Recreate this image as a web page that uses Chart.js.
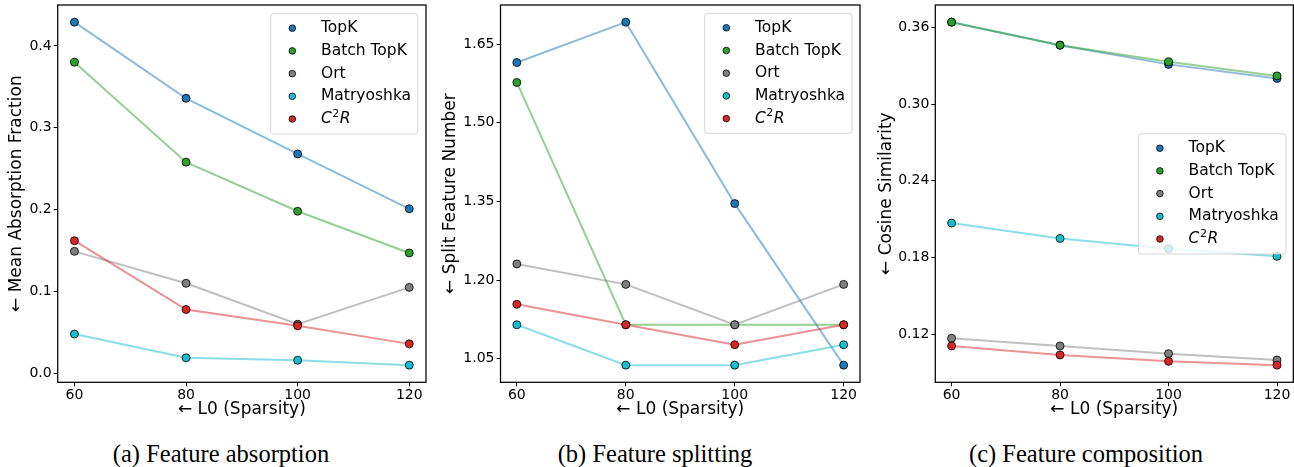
<!DOCTYPE html>
<html>
<head>
<meta charset="utf-8">
<script src="https://cdn.jsdelivr.net/npm/chart.js@4.4.1/dist/chart.umd.min.js"></script>
<style>
  html, body { margin: 0; padding: 0; background: #fff; }
  body { width: 1294px; height: 467px; position: relative; overflow: hidden; }
  .panel { position: absolute; top: 0; }
  .cap {
    position: absolute; top: 441.8px; width: 300px; text-align: center;
    font-family: "Liberation Serif", "Times New Roman", serif;
    font-size: 24.5px; line-height: 1; color: #000; white-space: nowrap;
  }
</style>
</head>
<body>
<canvas id="absChart" class="panel" width="430" height="425" style="left:0px"></canvas>
<canvas id="splitChart" class="panel" width="424" height="425" style="left:440px"></canvas>
<canvas id="compChart" class="panel" width="424" height="425" style="left:870px"></canvas>
<div class="cap" style="left:71px">(a) Feature absorption</div>
<div class="cap" style="left:505px">(b) Feature splitting</div>
<div class="cap" style="left:936px">(c) Feature composition</div>

<script>
// ── Data ──────────────────────────────────────────────────────
const xValues = [60, 80, 100, 120];
const xTicks  = [60, 80, 100, 120];
const methodNames  = ['TopK', 'Batch TopK', 'Ort', 'Matryoshka', 'C²R'];
const methodColors = ['#1f77b4', '#2ca02c', '#7f7f7f', '#17becf', '#d62728'];

// (a) Feature absorption
const absorptionTopK  = [0.429, 0.336, 0.268, 0.201];
const absorptionBatch = [0.380, 0.258, 0.198, 0.147];
const absorptionOrt   = [0.149, 0.110, 0.060, 0.105];
const absorptionMatry = [0.048, 0.019, 0.016, 0.010];
const absorptionC2R   = [0.162, 0.078, 0.058, 0.036];
const absorptionTicks = [0.0, 0.1, 0.2, 0.3, 0.4];

// (b) Feature splitting
const splittingTopK  = [1.615, 1.692, 1.346, 1.038];
const splittingBatch = [1.577, 1.115, 1.115, 1.115];
const splittingOrt   = [1.231, 1.192, 1.115, 1.192];
const splittingMatry = [1.115, 1.038, 1.038, 1.077];
const splittingC2R   = [1.154, 1.115, 1.077, 1.115];
const splittingTicks = [1.05, 1.20, 1.35, 1.50, 1.65];

// (c) Feature composition
const compositionTopK  = [0.364, 0.346, 0.331, 0.320];
const compositionBatch = [0.364, 0.346, 0.333, 0.322];
const compositionOrt   = [0.117, 0.111, 0.105, 0.100];
const compositionMatry = [0.207, 0.195, 0.187, 0.181];
const compositionC2R   = [0.111, 0.104, 0.099, 0.096];
const compositionTicks = [0.12, 0.18, 0.24, 0.30, 0.36];

// ── Helpers ───────────────────────────────────────────────────
const FONT = '"DejaVu Sans", "Noto Sans", sans-serif';

function rgba(hex, a) {
  const n = parseInt(hex.slice(1), 16);
  return `rgba(${(n >> 16) & 255},${(n >> 8) & 255},${n & 255},${a})`;
}

// matplotlib-style 5% margins around the data
function paddedRange(values) {
  const lo = Math.min(...values), hi = Math.max(...values);
  const m = (hi - lo) * 0.05;
  return [lo - m, hi + m];
}

function makeDatasets(seriesList) {
  return seriesList.map((values, i) => ({
    label: methodNames[i],
    data: values.map((v, j) => ({ x: xValues[j], y: v })),
    borderColor: rgba(methodColors[i], 0.5),
    backgroundColor: methodColors[i],
    pointBackgroundColor: methodColors[i],
    pointBorderColor: '#000',
    pointBorderWidth: 0.8,
    pointRadius: 4,
    pointHoverRadius: 4,
    borderWidth: 2,
    tension: 0,
    order: seriesList.length - i,   // later series on top, like matplotlib
    clip: false,
  }));
}

function drawLabel(ctx, text, x, y) {
  ctx.fillStyle = '#000';
  ctx.textBaseline = 'middle';
  ctx.textAlign = 'left';
  if (text === 'C²R') {
    ctx.font = `italic 15.5px ${FONT}`;
    ctx.fillText('C', x, y);
    let cx = x + ctx.measureText('C').width + 0.5;
    ctx.font = `11px ${FONT}`;
    ctx.fillText('2', cx, y - 5);
    cx += ctx.measureText('2').width + 0.5;
    ctx.font = `italic 15.5px ${FONT}`;
    ctx.fillText('R', cx, y);
    return;
  }
  ctx.font = `15.5px ${FONT}`;
  ctx.fillText(text, x, y);
}

// ── Plugins ───────────────────────────────────────────────────
const boxLegend = {
  id: 'boxLegend',
  afterDatasetsDraw(chart, args, opts) {
    const { ctx } = chart;
    const { left, top, width, height } = opts;
    const r = 3;
    ctx.save();
    ctx.beginPath();
    ctx.moveTo(left + r, top);
    ctx.lineTo(left + width - r, top);
    ctx.arcTo(left + width, top, left + width, top + r, r);
    ctx.lineTo(left + width, top + height - r);
    ctx.arcTo(left + width, top + height, left + width - r, top + height, r);
    ctx.lineTo(left + r, top + height);
    ctx.arcTo(left, top + height, left, top + height - r, r);
    ctx.lineTo(left, top + r);
    ctx.arcTo(left, top, left + r, top, r);
    ctx.closePath();
    ctx.fillStyle = 'rgba(255,255,255,0.8)';
    ctx.fill();
    ctx.strokeStyle = 'rgba(204,204,204,0.8)';
    ctx.lineWidth = 1;
    ctx.stroke();

    chart.data.datasets.forEach((ds, i) => {
      const cy = top + 14.5 + i * 22.7;
      ctx.beginPath();
      ctx.arc(left + 21.6, cy, 3.3, 0, Math.PI * 2);
      ctx.fillStyle = ds.pointBackgroundColor;
      ctx.fill();
      ctx.strokeStyle = '#000';
      ctx.lineWidth = 0.8;
      ctx.stroke();
      drawLabel(ctx, ds.label, left + 50.3, cy);
    });
    ctx.restore();
  },
};

const frameLines = {
  id: 'frameLines',
  afterDraw(chart) {
    const { ctx, chartArea: a } = chart;
    ctx.save();
    ctx.strokeStyle = '#000';
    ctx.lineWidth = 1.25;
    ctx.strokeRect(a.left, a.top, a.right - a.left, a.bottom - a.top);
    ctx.restore();
  },
};

// ── Chart factory ─────────────────────────────────────────────
function makeChart(canvasId, seriesList, yTicks, decimals, yTitle, cfg) {
  const el = document.getElementById(canvasId);
  const [yMin, yMax] = paddedRange(seriesList.flat());
  const [xMin, xMax] = paddedRange(xValues);
  const tickGrid = {
    display: true, drawOnChartArea: false, drawTicks: true,
    tickLength: 4, tickWidth: 1, tickColor: '#000', color: '#000',
  };

  return new Chart(el, {
    type: 'line',
    data: { datasets: makeDatasets(seriesList) },
    options: {
      responsive: false,
      animation: false,
      devicePixelRatio: 1,
      events: [],
      layout: { autoPadding: false, padding: { left: 0, right: cfg.padRight, top: 5, bottom: 5 } },
      plugins: {
        legend: { display: false },
        tooltip: { enabled: false },
        boxLegend: cfg.legend,
      },
      scales: {
        x: {
          type: 'linear', min: xMin, max: xMax,
          afterBuildTicks: (s) => { s.ticks = xTicks.map(v => ({ value: v })); },
          afterFit: (s) => { s.height = 37.7; s.paddingLeft = 0; s.paddingRight = 0; },
          grid: tickGrid,
          border: { display: false },
          ticks: { color: '#000', font: { family: FONT, size: 14 }, padding: 1, maxRotation: 0, callback: v => String(v) },
          title: { display: true, text: '← L0 (Sparsity)', color: '#000', font: { family: FONT, size: 17 }, padding: { top: 0, bottom: 0 } },
        },
        y: {
          type: 'linear', min: yMin, max: yMax,
          afterBuildTicks: (s) => { s.ticks = yTicks.map(v => ({ value: v })); },
          afterFit: (s) => { s.width = cfg.yWidth; s.paddingTop = 0; s.paddingBottom = 0; },
          grid: tickGrid,
          border: { display: false },
          ticks: { color: '#000', font: { family: FONT, size: 14 }, padding: 2, callback: v => v.toFixed(decimals) },
          title: { display: true, text: yTitle, color: '#000', font: { family: FONT, size: 17 }, padding: { top: cfg.yTitlePad, bottom: 0 } },
        },
      },
    },
    plugins: [boxLegend, frameLines],
  });
}

// ── Init ──────────────────────────────────────────────────────
makeChart('absChart',
  [absorptionTopK, absorptionBatch, absorptionOrt, absorptionMatry, absorptionC2R],
  absorptionTicks, 1, '← Mean Absorption Fraction',
  { yWidth: 57.7, padRight: 4, yTitlePad: 6.5, legend: { left: 270.7, top: 13.7, width: 147, height: 120.3 } });

makeChart('splitChart',
  [splittingTopK, splittingBatch, splittingOrt, splittingMatry, splittingC2R],
  splittingTicks, 2, '← Split Feature Number',
  { yWidth: 60.5, padRight: 4, yTitlePad: 0.5, legend: { left: 264.7, top: 13.3, width: 147.3, height: 120 } });

makeChart('compChart',
  [compositionTopK, compositionBatch, compositionOrt, compositionMatry, compositionC2R],
  compositionTicks, 2, '← Cosine Similarity',
  { yWidth: 65.3, padRight: 0.7, yTitlePad: 6.5, legend: { left: 268.3, top: 133.7, width: 147.7, height: 120.3 } });
</script>
</body>
</html>
